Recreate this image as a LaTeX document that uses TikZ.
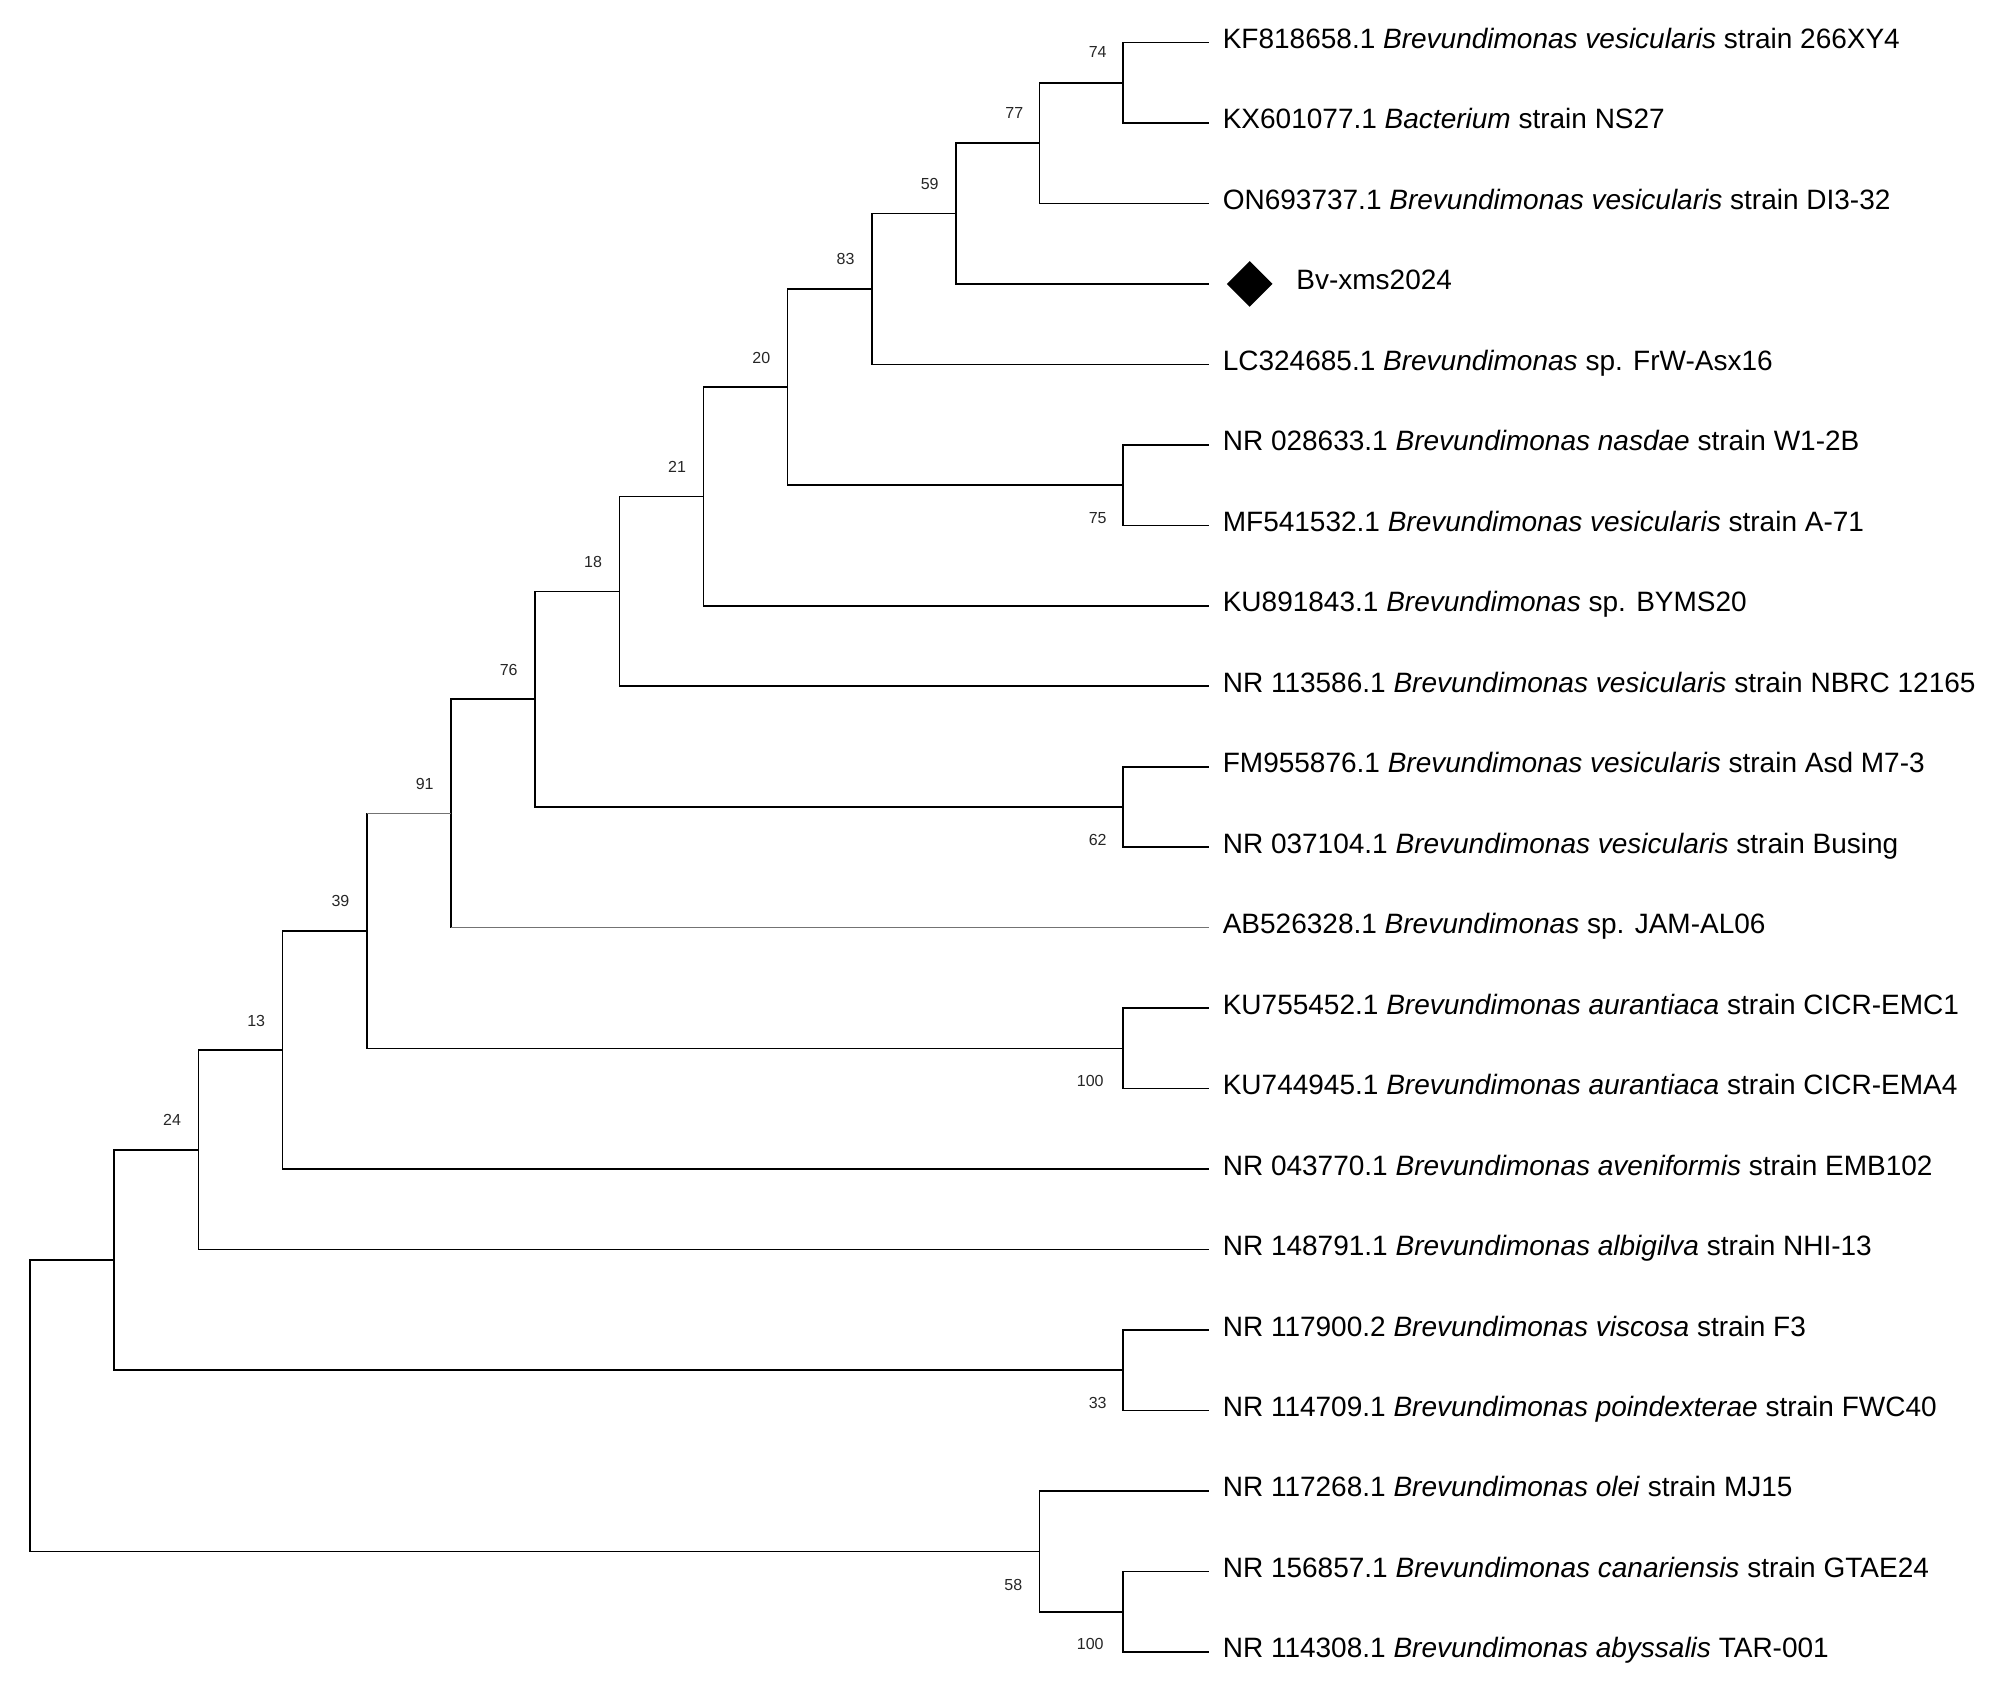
\documentclass[tikz,border=0pt]{standalone}
\usepackage{fontspec}
\setmainfont{Liberation Sans}
\usetikzlibrary{calc,shapes.geometric}
\definecolor{graybr}{RGB}{115,115,115}
\begin{document}
\begin{tikzpicture}[x=0.5pt,y=-0.5pt,
  br/.style={line width=0.8pt, black, line join=miter},
  gbr/.style={line width=0.6pt, draw=graybr},
  tiplab/.style={anchor=base west, inner sep=0pt, font=\fontsize{14pt}{16pt}\selectfont},
  bs/.style={anchor=base east, inner sep=0pt, font=\fontsize{8pt}{9pt}\selectfont, text=black!85}]
\path[use as bounding box] (0,0) rectangle (2001,1688);

% tips
\coordinate (t0) at (1209.4,42.5);
\coordinate (t1) at (1209.4,122.97);
\coordinate (t2) at (1209.4,203.44);
\coordinate (t3) at (1209.4,283.91);
\coordinate (t4) at (1209.4,364.38);
\coordinate (t5) at (1209.4,444.85);
\coordinate (t6) at (1209.4,525.32);
\coordinate (t7) at (1209.4,605.79);
\coordinate (t8) at (1209.4,686.26);
\coordinate (t9) at (1209.4,766.73);
\coordinate (t10) at (1209.4,847.2);
\coordinate (t11) at (1209.4,927.67);
\coordinate (t12) at (1209.4,1008.14);
\coordinate (t13) at (1209.4,1088.61);
\coordinate (t14) at (1209.4,1169.08);
\coordinate (t15) at (1209.4,1249.55);
\coordinate (t16) at (1209.4,1330.02);
\coordinate (t17) at (1209.4,1410.49);
\coordinate (t18) at (1209.4,1490.96);
\coordinate (t19) at (1209.4,1571.43);
\coordinate (t20) at (1209.4,1651.9);

% internal nodes
\coordinate (M) at (1123,82.74);
\coordinate (L) at (1039.6,143.09);
\coordinate (K) at (956,213.5);
\coordinate (J) at (871.8,288.94);
\coordinate (n75) at (1123,485.09);
\coordinate (I) at (787.6,387.01);
\coordinate (H) at (703.4,496.4);
\coordinate (G) at (619.3,591.33);
\coordinate (n62) at (1123,806.97);
\coordinate (F) at (535,699.15);
\coordinate (E) at (451,813.41);
\coordinate (n100a) at (1123,1048.38);
\coordinate (D) at (366.7,930.9);
\coordinate (C) at (282.5,1049.99);
\coordinate (B) at (198.3,1149.77);
\coordinate (n33) at (1123,1370.26);
\coordinate (A) at (114.2,1260.0);
\coordinate (n100b) at (1123,1611.67);
\coordinate (n58) at (1039.6,1551.3);
\coordinate (R) at (30,1405.7);

% branches
\draw[br] (M) |- (t0); \draw[br] (M) |- (t1);
\draw[br] (L) |- (M); \draw[br] (L) |- (t2);
\draw[br] (K) |- (L); \draw[br] (K) |- (t3);
\draw[br] (J) |- (K); \draw[br] (J) |- (t4);
\draw[br] (n75) |- (t5); \draw[br] (n75) |- (t6);
\draw[br] (I) |- (J); \draw[br] (I) |- (n75);
\draw[br] (H) |- (I); \draw[br] (H) |- (t7);
\draw[br] (G) |- (H); \draw[br] (G) |- (t8);
\draw[br] (n62) |- (t9); \draw[br] (n62) |- (t10);
\draw[br] (F) |- (G); \draw[br] (F) |- (n62);
\draw[br] (E) |- (F); \draw[br] (E) -- (E |- t11);
\draw[gbr] (E |- t11) -- (t11);
\draw[br] (D) -- (D |- E); \draw[gbr] (D |- E) -- (E);
\draw[br] (D) |- (n100a);
\draw[br] (n100a) |- (t12); \draw[br] (n100a) |- (t13);
\draw[br] (C) |- (D); \draw[br] (C) |- (t14);
\draw[br] (B) |- (C); \draw[br] (B) |- (t15);
\draw[br] (n33) |- (t16); \draw[br] (n33) |- (t17);
\draw[br] (A) |- (B); \draw[br] (A) |- (n33);
\draw[br] (n100b) |- (t19); \draw[br] (n100b) |- (t20);
\draw[br] (n58) |- (t18); \draw[br] (n58) |- (n100b);
\draw[br] (R) |- (A); \draw[br] (R) |- (n58);

% tip labels
\node[tiplab] (l0) at ($(t0)+(13,6)$) {KF818658.1 \textit{Brevundimonas vesicularis} strain 266XY4};
\node[tiplab] (l1) at ($(t1)+(13,6)$) {KX601077.1 \textit{Bacterium} strain NS27};
\node[tiplab] (l2) at ($(t2)+(13,6)$) {ON693737.1 \textit{Brevundimonas vesicularis} strain DI3-32};
\node[diamond, fill=black, inner sep=0pt, minimum width=23pt, minimum height=23pt] (mk) at ($(t3)+(40.3,0)$) {};
\node[tiplab] (l3) at ($(t3)+(86.6,6)$) {Bv-xms2024};
\node[tiplab] (l4) at ($(t4)+(13,6)$) {LC324685.1 \textit{Brevundimonas} sp. FrW-Asx16};
\node[tiplab] (l5) at ($(t5)+(13,6)$) {NR 028633.1 \textit{Brevundimonas nasdae} strain W1-2B};
\node[tiplab] (l6) at ($(t6)+(13,6)$) {MF541532.1 \textit{Brevundimonas vesicularis} strain A-71};
\node[tiplab] (l7) at ($(t7)+(13,6)$) {KU891843.1 \textit{Brevundimonas} sp. BYMS20};
\node[tiplab] (l8) at ($(t8)+(13,6)$) {NR 113586.1 \textit{Brevundimonas vesicularis} strain NBRC 12165};
\node[tiplab] (l9) at ($(t9)+(13,6)$) {FM955876.1 \textit{Brevundimonas vesicularis} strain Asd M7-3};
\node[tiplab] (l10) at ($(t10)+(13,6)$) {NR 037104.1 \textit{Brevundimonas vesicularis} strain Busing};
\node[tiplab] (l11) at ($(t11)+(13,6)$) {AB526328.1 \textit{Brevundimonas} sp. JAM-AL06};
\node[tiplab] (l12) at ($(t12)+(13,6)$) {KU755452.1 \textit{Brevundimonas aurantiaca} strain CICR-EMC1};
\node[tiplab] (l13) at ($(t13)+(13,6)$) {KU744945.1 \textit{Brevundimonas aurantiaca} strain CICR-EMA4};
\node[tiplab] (l14) at ($(t14)+(13,6)$) {NR 043770.1 \textit{Brevundimonas aveniformis} strain EMB102};
\node[tiplab] (l15) at ($(t15)+(13,6)$) {NR 148791.1 \textit{Brevundimonas albigilva} strain NHI-13};
\node[tiplab] (l16) at ($(t16)+(13,6)$) {NR 117900.2 \textit{Brevundimonas viscosa} strain F3};
\node[tiplab] (l17) at ($(t17)+(13,6)$) {NR 114709.1 \textit{Brevundimonas poindexterae} strain FWC40};
\node[tiplab] (l18) at ($(t18)+(13,6)$) {NR 117268.1 \textit{Brevundimonas olei} strain MJ15};
\node[tiplab] (l19) at ($(t19)+(13,6)$) {NR 156857.1 \textit{Brevundimonas canariensis} strain GTAE24};
\node[tiplab] (l20) at ($(t20)+(13,6)$) {NR 114308.1 \textit{Brevundimonas abyssalis} TAR-001};

% bootstrap values
\node[bs] (b74) at ($(M)+(-16,-25)$) {74};
\node[bs] (b77) at ($(L)+(-16,-25)$) {77};
\node[bs] (b59) at ($(K)+(-17,-24)$) {59};
\node[bs] (b83) at ($(J)+(-17,-24)$) {83};
\node[bs] (b20) at ($(I)+(-17,-24)$) {20};
\node[bs] (b21) at ($(H)+(-17,-24)$) {21};
\node[bs] (b18) at ($(G)+(-17,-24)$) {18};
\node[bs] (b76) at ($(F)+(-17,-24)$) {76};
\node[bs] (b91) at ($(E)+(-17,-24)$) {91};
\node[bs] (b39) at ($(D)+(-17,-24)$) {39};
\node[bs] (b13) at ($(C)+(-17,-24)$) {13};
\node[bs] (b24) at ($(B)+(-17,-24)$) {24};
\node[bs] (b75) at ($(n75 |- t6)+(-16,-2)$) {75};
\node[bs] (b62) at ($(n62 |- t10)+(-16,-2)$) {62};
\node[bs] (b100a) at ($(n100a |- t13)+(-19,-2)$) {100};
\node[bs] (b33) at ($(n33 |- t17)+(-16,-2)$) {33};
\node[bs] (b58) at ($(n58)+(-17,39)$) {58};
\node[bs] (b100b) at ($(n100b |- t20)+(-19,-2)$) {100};
\end{tikzpicture}
\end{document}
